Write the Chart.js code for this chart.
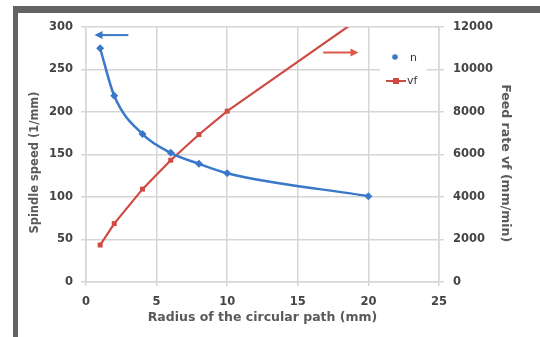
<!DOCTYPE html>
<html>
<head>
<meta charset="utf-8">
<script src="https://cdn.jsdelivr.net/npm/chart.js@4"></script>
<style>
  html, body { margin: 0; padding: 0; background: #ffffff; }
  #wrap { position: relative; width: 540px; height: 337px; }
</style>
</head>
<body>
<div id="wrap"><canvas id="c" width="540" height="337"></canvas></div>
<script>
// ---- data ----
const radius = [1, 2, 4, 6, 8, 10, 20];
const spindleSpeed = [275, 219, 174, 152, 139, 128, 101];
const feedRate = [1740, 2750, 4370, 5730, 6940, 8040, 12690];
const xTicks = [0, 5, 10, 15, 20, 25];
const yTicks = [0, 50, 100, 150, 200, 250, 300];
const y2Ticks = [0, 2000, 4000, 6000, 8000, 10000, 12000];
const seriesNames = ['n', 'vf'];

const BLUE = '#3a78c9';
const RED = '#cf4a43';
const ARROW_RED = '#dd5a48';
const GRID = '#d6d6d6';
const TICK_COLOR = '#444444';
const TITLE_COLOR = '#5a5a5a';

const tickFont = { family: 'DejaVu Sans', size: 11.5, weight: 'bold' };
const titleFont = { family: 'DejaVu Sans', size: 12.5, weight: 'bold' };
const leftTitleFont = { family: 'DejaVu Sans', size: 11.5, weight: 'bold' };

const frame = {
  id: 'frame',
  beforeDraw(chart) {
    const ctx = chart.ctx;
    ctx.save();
    ctx.fillStyle = '#636363';
    ctx.fillRect(13, 6, 527, 7);
    ctx.fillRect(13, 6, 5, 331);
    ctx.restore();
  }
};

function arrow(ctx, x1, y1, x2, y2, color) {
  const ang = Math.atan2(y2 - y1, x2 - x1);
  const hl = 8, hw = 4;
  ctx.save();
  ctx.strokeStyle = color;
  ctx.fillStyle = color;
  ctx.lineWidth = 2;
  ctx.beginPath();
  ctx.moveTo(x1, y1);
  ctx.lineTo(x2 - Math.cos(ang) * hl * 0.8, y2 - Math.sin(ang) * hl * 0.8);
  ctx.stroke();
  ctx.beginPath();
  ctx.moveTo(x2, y2);
  ctx.lineTo(x2 - Math.cos(ang) * hl - Math.sin(ang) * hw, y2 - Math.sin(ang) * hl + Math.cos(ang) * hw);
  ctx.lineTo(x2 - Math.cos(ang) * hl + Math.sin(ang) * hw, y2 - Math.sin(ang) * hl - Math.cos(ang) * hw);
  ctx.closePath();
  ctx.fill();
  ctx.restore();
}

const extras = {
  id: 'extras',
  afterDatasetsDraw(chart) {
    const ctx = chart.ctx;
    const xs = chart.scales.x, ys = chart.scales.y;
    // arrows (data coordinates on x / left y axis)
    arrow(ctx, xs.getPixelForValue(3.0), ys.getPixelForValue(290.5),
               xs.getPixelForValue(0.6), ys.getPixelForValue(290.5), BLUE);
    arrow(ctx, xs.getPixelForValue(16.8), ys.getPixelForValue(270),
               xs.getPixelForValue(19.3), ys.getPixelForValue(270), ARROW_RED);
    // legend
    const lx = 380, ly = 45, lw = 47, lh = 50;
    ctx.save();
    ctx.fillStyle = '#ffffff';
    ctx.fillRect(lx, ly, lw, lh);
    // n : marker only
    ctx.fillStyle = BLUE;
    ctx.beginPath();
    ctx.arc(395, 57, 2.8, 0, Math.PI * 2);
    ctx.fill();
    // vf : line + square
    ctx.strokeStyle = RED;
    ctx.lineWidth = 2;
    ctx.beginPath();
    ctx.moveTo(386, 81);
    ctx.lineTo(406, 81);
    ctx.stroke();
    ctx.fillStyle = RED;
    ctx.fillRect(393, 78, 6, 6);
    ctx.fillStyle = '#333333';
    ctx.font = '11px "DejaVu Sans"';
    ctx.textBaseline = 'middle';
    ctx.textAlign = 'left';
    ctx.fillText(seriesNames[0], 410, 58);
    ctx.fillText(seriesNames[1], 407, 81);
    ctx.restore();
  }
};

const plain = v => String(v);

new Chart(document.getElementById('c'), {
  type: 'line',
  data: {
    datasets: [
      {
        label: seriesNames[0],
        data: radius.map((r, i) => ({ x: r, y: spindleSpeed[i] })),
        yAxisID: 'y',
        borderColor: BLUE,
        backgroundColor: BLUE,
        borderWidth: 2.5,
        cubicInterpolationMode: 'monotone',
        pointStyle: 'rectRot',
        pointRadius: 4,
        pointBorderWidth: 0,
        fill: false
      },
      {
        label: seriesNames[1],
        data: radius.map((r, i) => ({ x: r, y: feedRate[i] })),
        yAxisID: 'y2',
        borderColor: RED,
        backgroundColor: RED,
        borderWidth: 2.2,
        tension: 0,
        pointStyle: 'rect',
        pointRadius: 3.5,
        pointBorderWidth: 0,
        clip: 0,
        fill: false
      }
    ]
  },
  options: {
    responsive: false,
    animation: false,
    events: [],
    layout: { padding: { top: 27, left: 0, right: 0, bottom: 0 } },
    plugins: { legend: { display: false }, tooltip: { enabled: false } },
    scales: {
      x: {
        type: 'linear',
        min: 0, max: 25,
        afterBuildTicks(s) { s.ticks = xTicks.map(v => ({ value: v })); },
        afterFit(s) { s.height = 55; },
        grid: { color: GRID, lineWidth: 1.5, tickLength: 4 },
        border: { color: GRID, width: 1.5 },
        ticks: { color: TICK_COLOR, font: tickFont, padding: 9, maxRotation: 0, callback: plain },
        title: { display: true, text: 'Radius of the circular path (mm)', color: TITLE_COLOR, font: titleFont, padding: { top: 0, bottom: 12 } }
      },
      y: {
        position: 'left',
        min: 0, max: 300,
        afterBuildTicks(s) { s.ticks = yTicks.map(v => ({ value: v })); },
        afterFit(s) { s.width = 86; },
        grid: { color: GRID, lineWidth: 1.5, tickLength: 5 },
        border: { color: GRID, width: 1.5 },
        ticks: { color: TICK_COLOR, font: tickFont, padding: 8, callback: plain },
        title: { display: true, text: 'Spindle speed (1/mm)    ', color: TITLE_COLOR, font: leftTitleFont, padding: { top: 28, bottom: 0 } }
      },
      y2: {
        position: 'right',
        min: 0, max: 12000,
        afterBuildTicks(s) { s.ticks = y2Ticks.map(v => ({ value: v })); },
        afterFit(s) { s.width = 101; },
        grid: { color: GRID, lineWidth: 1.5, tickLength: 5, drawOnChartArea: false },
        border: { color: GRID, width: 1.5 },
        ticks: { color: TICK_COLOR, font: tickFont, padding: 9, callback: plain },
        title: { display: true, text: '    Feed rate vf (mm/min)', color: TITLE_COLOR, font: titleFont, padding: { top: 27, bottom: 0 } }
      }
    }
  },
  plugins: [frame, extras]
});
</script>
</body>
</html>
